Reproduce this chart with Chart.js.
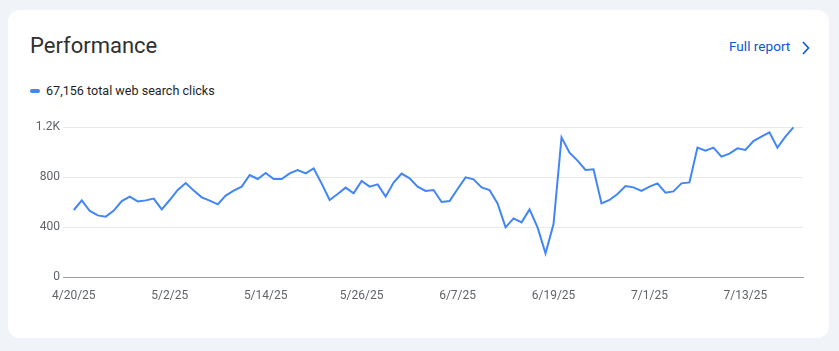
<!DOCTYPE html>
<html>
<head>
<meta charset="utf-8">
<script src="https://cdn.jsdelivr.net/npm/chart.js@4.4.1/dist/chart.umd.min.js"></script>
<style>
  html, body { margin: 0; padding: 0; }
  body { width: 839px; height: 351px; background: #f0f4f9; font-family: Roboto, "Open Sans", sans-serif; position: relative; overflow: hidden; }
  .card { position: absolute; left: 8px; top: 10px; width: 821px; height: 328px; background: #fff; border-radius: 12px; }
  .title { position: absolute; left: 30px; top: 33px; font-size: 22px; color: #303030; }
  .report { position: absolute; left: 729px; top: 38px; font-size: 13.6px; color: #0b57d0; }
  .chev { position: absolute; left: 800px; top: 40px; }
  .legend { position: absolute; left: 30px; top: 83px; font-size: 12.6px; color: #1f1f1f; }
  .legend .dot { display: inline-block; width: 10px; height: 4px; border-radius: 2px; background: #4285f4; vertical-align: middle; margin-right: 6px; position: relative; top: -1px; }
  .chart-box { position: absolute; left: 30px; top: 115px; width: 790px; height: 200px; }
</style>
</head>
<body>
<div class="card"></div>
<div class="title">Performance</div>
<div class="report">Full report</div>
<svg class="chev" width="12" height="16" viewBox="0 0 12 16"><polyline points="3,2 8.5,8 3,14" fill="none" stroke="#0b57d0" stroke-width="1.6"/></svg>
<div class="legend"><span class="dot"></span>67,156 total web search clicks</div>
<div class="chart-box"><canvas id="perfChart"></canvas></div>
<script>
// Clics quotidiens du 4/20/25 au 7/19/25
const clicks = [
  536, 613, 528, 493, 483, 531, 608, 643, 605, 613, 627, 541, 616, 696, 752,
  691, 637, 611, 581, 651, 691, 723, 816, 784, 832, 784, 784, 829, 856, 829, 869,
  747, 616, 664, 715, 669, 768, 723, 741, 643, 755, 827, 789, 723, 688, 696,
  600, 608, 704, 797, 781, 717, 696, 589, 397, 469, 437, 541, 397, 189,
  424, 1117, 995, 931, 856, 861, 589, 616, 664, 728, 717, 688, 723, 749, 675, 685,
  749, 757, 1035, 1011, 1035, 963, 987, 1029, 1016, 1088, 1123, 1157, 1035, 1123, 1197
];

// Étiquettes de l'axe X (une tous les 12 jours)
const xTickLabels = ['4/20/25', '5/2/25', '5/14/25', '5/26/25', '6/7/25', '6/19/25', '7/1/25', '7/13/25'];
const tickEvery = 12;

// Étiquettes de l'axe Y
const yTickValues = [0, 400, 800, 1200];
const yTickLabels = ['0', '400', '800', '1.2K'];

const points = clicks.map((v, i) => ({ x: i, y: v }));

new Chart(document.getElementById('perfChart'), {
  type: 'line',
  data: {
    datasets: [{
      label: 'Clicks',
      data: points,
      borderColor: '#4285f4',
      borderWidth: 2,
      pointRadius: 0,
      tension: 0,
      clip: false
    }]
  },
  options: {
    responsive: true,
    maintainAspectRatio: false,
    animation: false,
    layout: { padding: { top: 12, right: 17, left: 0, bottom: 0 } },
    plugins: {
      legend: { display: false },
      tooltip: { enabled: false }
    },
    scales: {
      x: {
        type: 'linear',
        min: -1.35,
        max: 91.2,
        grid: { display: false, drawTicks: false },
        border: { display: true, color: '#9aa0a6', width: 1 },
        afterBuildTicks: (scale) => {
          scale.ticks = xTickLabels.map((_, k) => ({ value: k * tickEvery }));
        },
        afterFit: (scale) => { scale.height = 38; },
        ticks: {
          autoSkip: false,
          maxRotation: 0,
          padding: 12,
          color: '#5f6368',
          font: { family: 'Roboto', size: 12 },
          callback: (value) => xTickLabels[Math.round(value / tickEvery)] || ''
        }
      },
      y: {
        min: 0,
        max: 1200,
        grid: { color: '#e8eaed', drawTicks: false },
        border: { display: false },
        afterBuildTicks: (scale) => {
          scale.ticks = yTickValues.map(v => ({ value: v }));
        },
        afterFit: (scale) => { scale.width = 33; },
        ticks: {
          padding: 3,
          color: '#5f6368',
          font: { family: 'Roboto', size: 12 },
          callback: (value) => yTickLabels[yTickValues.indexOf(value)]
        }
      }
    }
  }
});
</script>
</body>
</html>
